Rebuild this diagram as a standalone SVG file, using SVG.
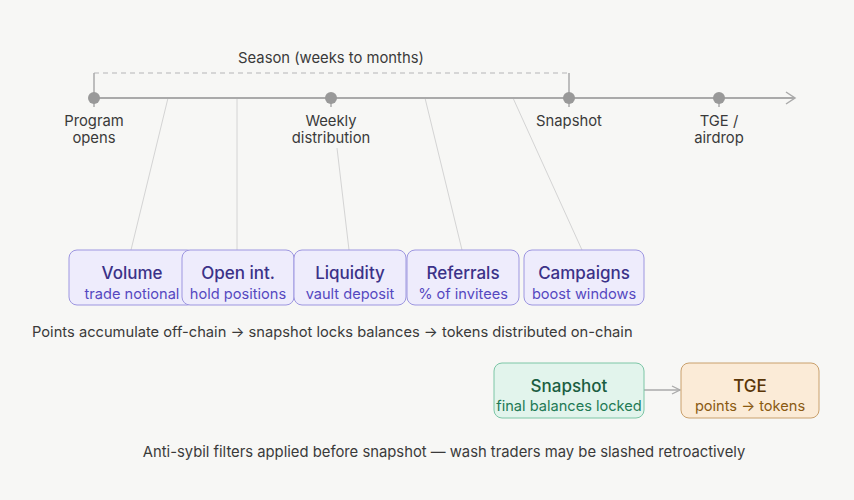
<svg xmlns="http://www.w3.org/2000/svg" width="854" height="500" viewBox="0 0 854 500">
<defs>
<style>
text{font-family:Inter,"Liberation Sans",sans-serif;}
.lbl{font-size:14.8px;fill:#3a3a3a;text-anchor:middle;}
.cap{font-size:14.7px;fill:#3a3a3a;}
.axis{stroke:#aaaaaa;stroke-width:2;fill:none;}
.tick{stroke:#aaaaaa;stroke-width:1.5;}
.dot{fill:#999999;}
.conn{stroke:#d4d4d4;stroke-width:1;fill:none;}
.pbox{fill:#eeecfc;stroke:#9d96e0;stroke-width:1;}
.pt{font-size:17px;fill:#3b3288;text-anchor:middle;font-weight:500;}
.ps{font-size:14.6px;fill:#5548c0;text-anchor:middle;}
.sbox{fill:#e2f4ec;stroke:#7cc6a6;stroke-width:1;}
.st{font-size:17px;fill:#1b5e42;text-anchor:middle;font-weight:500;}
.ss{font-size:14.6px;fill:#237a55;text-anchor:middle;}
.tbox{fill:#fbebd7;stroke:#c9a06c;stroke-width:1;}
.tt{font-size:17px;fill:#5a3608;text-anchor:middle;font-weight:500;}
.ts{font-size:14.6px;fill:#8a5a12;text-anchor:middle;}
</style>
<marker id="chev" viewBox="0 0 10 10" refX="9" refY="5" markerWidth="10" markerHeight="10" markerUnits="userSpaceOnUse" orient="auto">
<path d="M1,1 L9,5 L1,9" fill="none" stroke="#aaaaaa" stroke-width="1.3"/>
</marker>
</defs>
<rect width="854" height="500" fill="#f7f7f5"/>

<g id="connectors">
<path class="conn" d="M168,98 L131,250"/>
<path class="conn" d="M237,98 L237,250"/>
<path class="conn" d="M337,148 L349,250"/>
<path class="conn" d="M425,98 L462,250"/>
<path class="conn" d="M513,98 L582,250"/>
<path d="M644,390 L680,390" stroke="#aaaaaa" stroke-width="1.3" fill="none" marker-end="url(#chev)"/>
</g>

<g id="timeline">
<path d="M94,73 L569,73" stroke="#cccccc" stroke-width="1.3" stroke-dasharray="5,4" fill="none"/>
<path d="M94,73 L94,107 M569,73 L569,107" class="tick"/>
<path class="axis" d="M94,98 L795,98"/>
<path d="M786,92 L795,98 L786,104" fill="none" stroke="#aaaaaa" stroke-width="1.5"/>
<path class="tick" d="M331,98 L331,107 M719,98 L719,107"/>
<text x="331" y="63" class="lbl">Season (weeks to months)</text>
</g>

<g id="program-opens">
<circle class="dot" cx="94" cy="98" r="6"/>
<text x="94" y="126" class="lbl">Program</text>
<text x="94" y="143" class="lbl">opens</text>
</g>
<g id="weekly-distribution">
<circle class="dot" cx="331" cy="98" r="6"/>
<text x="331" y="126" class="lbl">Weekly</text>
<text x="331" y="143" class="lbl">distribution</text>
</g>
<g id="snapshot-marker">
<circle class="dot" cx="569" cy="98" r="6"/>
<text x="569" y="126" class="lbl">Snapshot</text>
</g>
<g id="tge-marker">
<circle class="dot" cx="719" cy="98" r="6"/>
<text x="719" y="126" class="lbl">TGE /</text>
<text x="719" y="143" class="lbl">airdrop</text>
</g>

<g id="volume">
<rect class="pbox" x="69" y="250" width="126" height="55" rx="8"/>
<text x="132" y="279" class="pt">Volume</text>
<text x="132" y="299" class="ps">trade notional</text>
</g>
<g id="open-int">
<rect class="pbox" x="182" y="250" width="112" height="55" rx="8"/>
<text x="238" y="279" class="pt">Open int.</text>
<text x="238" y="299" class="ps">hold positions</text>
</g>
<g id="liquidity">
<rect class="pbox" x="294" y="250" width="112" height="55" rx="8"/>
<text x="350" y="279" class="pt">Liquidity</text>
<text x="350" y="299" class="ps">vault deposit</text>
</g>
<g id="referrals">
<rect class="pbox" x="407" y="250" width="112" height="55" rx="8"/>
<text x="463" y="279" class="pt">Referrals</text>
<text x="463" y="299" class="ps">% of invitees</text>
</g>
<g id="campaigns">
<rect class="pbox" x="524" y="250" width="120" height="55" rx="8"/>
<text x="584" y="279" class="pt">Campaigns</text>
<text x="584" y="299" class="ps">boost windows</text>
</g>

<text x="32" y="337" class="cap">Points accumulate off-chain → snapshot locks balances → tokens distributed on-chain</text>

<g id="snapshot">
<rect class="sbox" x="494" y="363" width="150" height="55" rx="8"/>
<text x="569" y="392" class="st">Snapshot</text>
<text x="569" y="411" class="ss">final balances locked</text>
</g>
<g id="tge">
<rect class="tbox" x="681" y="363" width="138" height="55" rx="8"/>
<text x="750" y="392" class="tt">TGE</text>
<text x="750" y="411" class="ts">points → tokens</text>
</g>

<text x="444" y="457" class="lbl">Anti-sybil filters applied before snapshot — wash traders may be slashed retroactively</text>
</svg>
